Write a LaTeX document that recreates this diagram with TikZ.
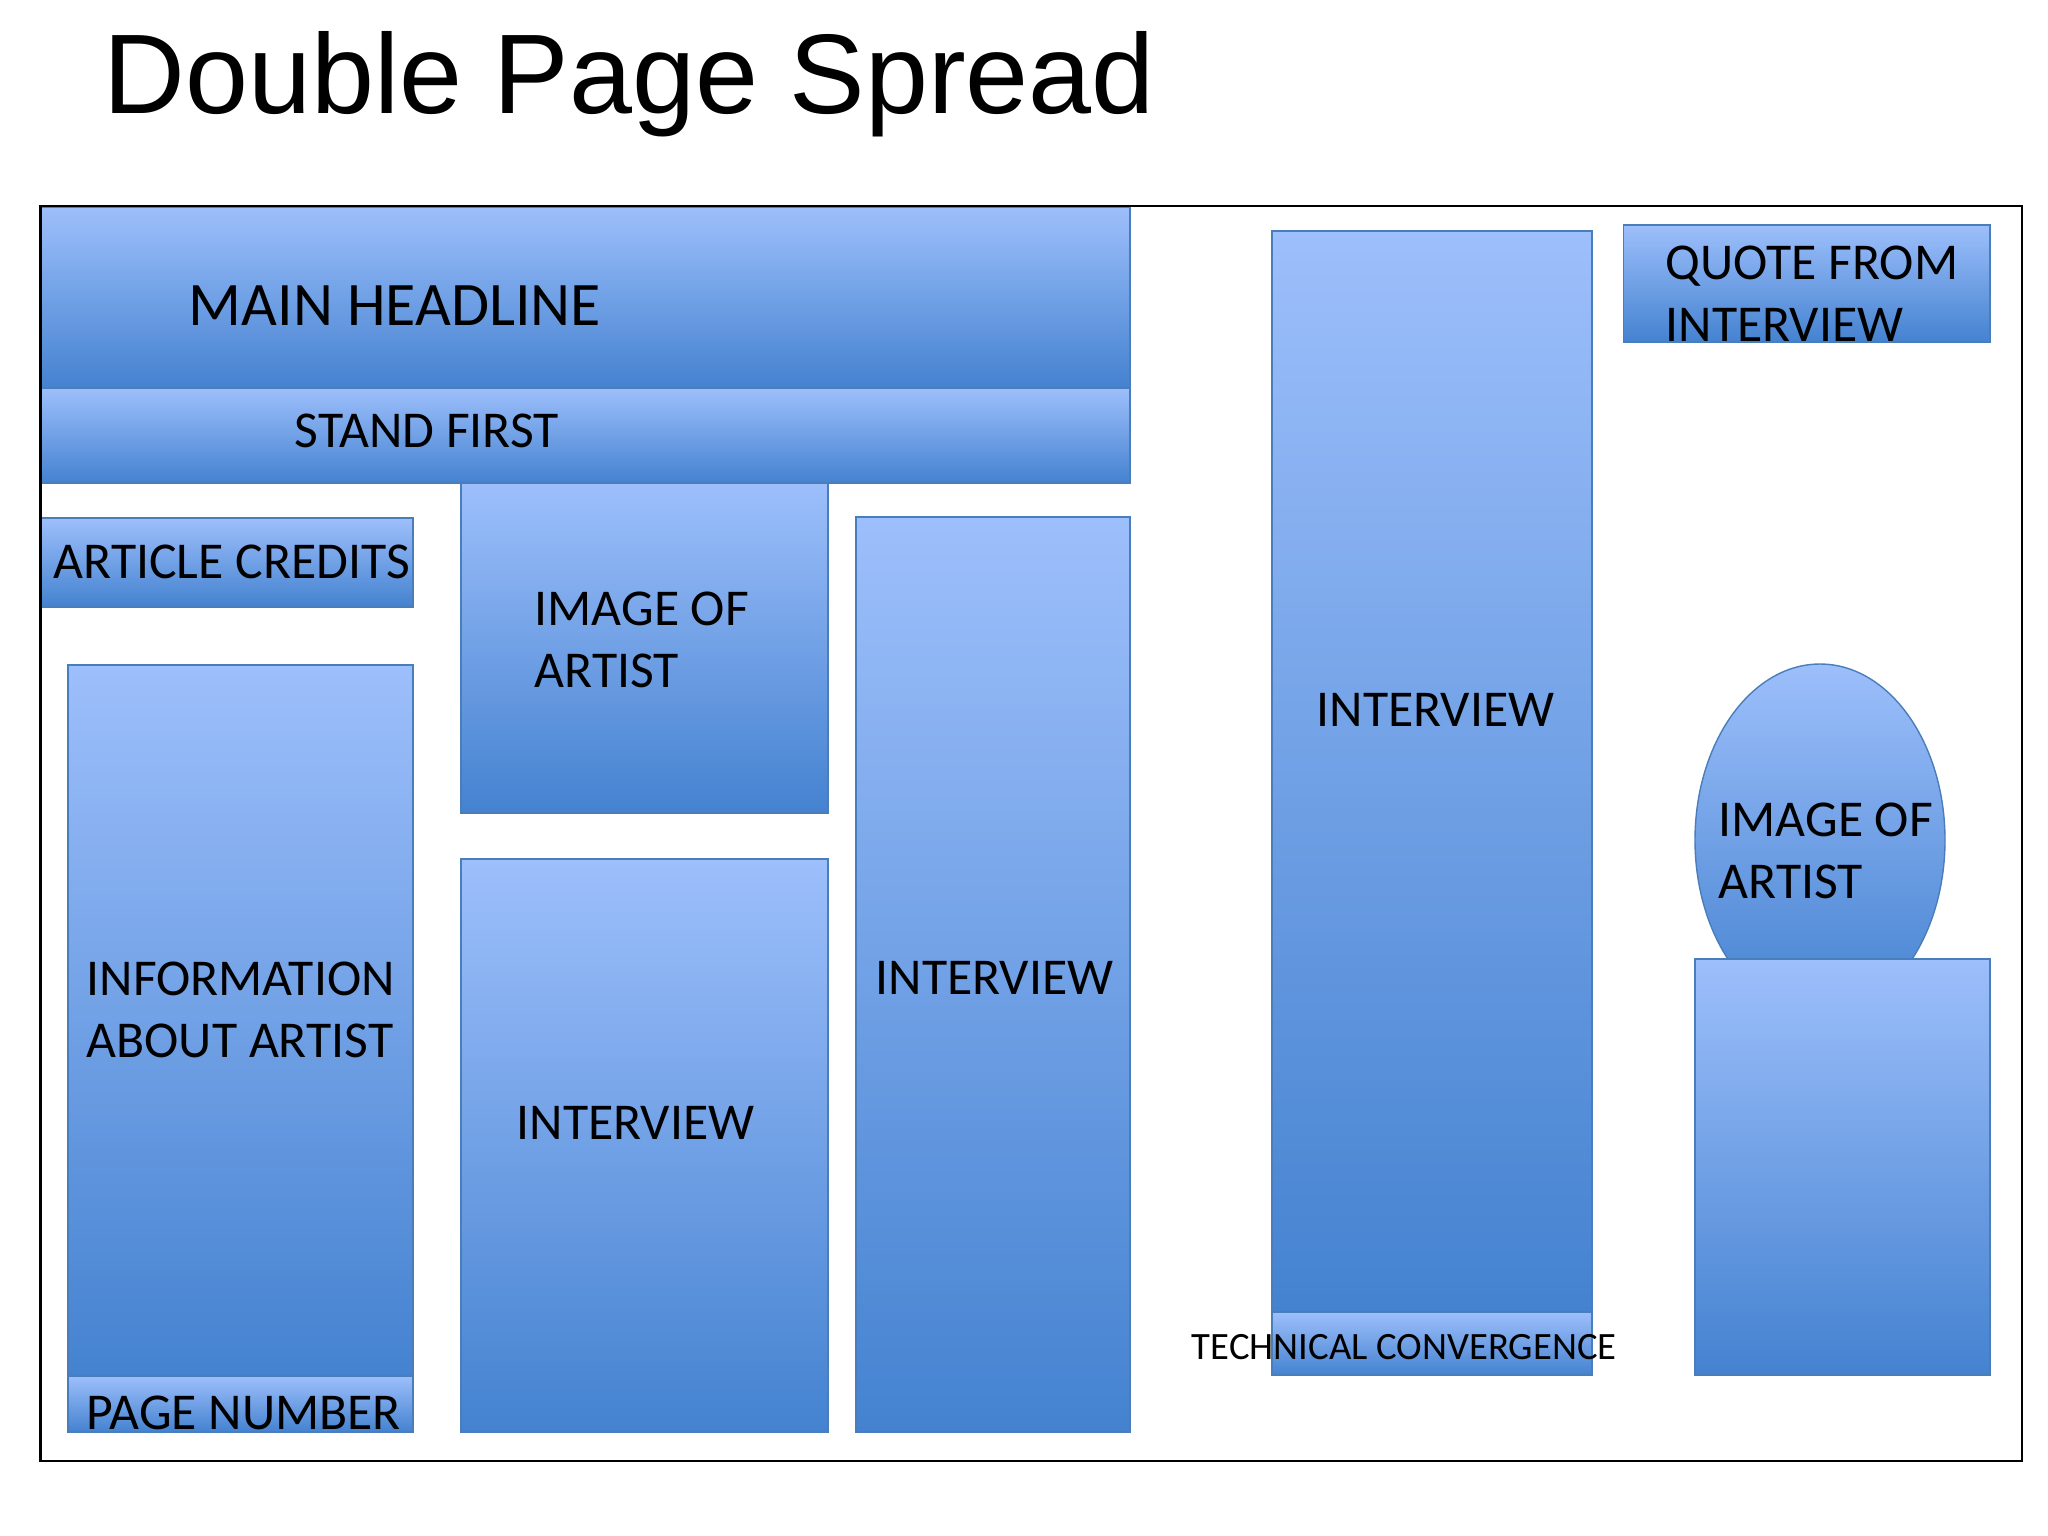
\documentclass[tikz,border=0pt]{standalone}
\usepackage{fontspec}
\setmainfont{Carlito}
\newfontfamily\titlefont{Liberation Sans}

\definecolor{paneltop}{RGB}{157,191,251}
\definecolor{panelbot}{RGB}{68,130,208}
\definecolor{paneledge}{RGB}{74,126,187}

\tikzset{
	panel/.style={draw=paneledge, line width=0.4pt, top color=paneltop, bottom color=panelbot},
	lbl/.style={inner sep=0pt, anchor=base west, align=left, font=\fontsize{14.7}{17.6}\selectfont},
}

\begin{document}
\begin{tikzpicture}[x=0.01cm, y=-0.01cm]
	\useasboundingbox [fill=white] (0,0) rectangle (2048,1535);

	\node [inner sep=0pt, anchor=base west, font=\titlefont\fontsize{32.2}{38}\selectfont] (title) at (103,113) {Double Page Spread};

	\path [panel] (40.5,207.5) rectangle (1130,388);
	\path [panel] (40.5,388) rectangle (1130,483);
	\path [panel] (40.5,518) rectangle (413,607);
	\path [panel] (461,483) rectangle (828,813);
	\path [panel] (856,517) rectangle (1130,1432);
	\path [panel] (461,859) rectangle (828,1432);
	\path [panel] (68,665) rectangle (413,1376);
	\path [panel] (68,1376) rectangle (413,1432);

	\path [panel] (1272,231) rectangle (1592,1312);
	\path [panel] (1272,1312) rectangle (1592,1375);
	\path [panel] (1623.5,225) rectangle (1990,342);
	\path [panel] (1820,840) ellipse [x radius=125, y radius=176];
	\path [panel] (1695,959) rectangle (1990,1375);

	\draw [line width=0.7pt] (40.5,206) rectangle (2022,1461);

	\node [lbl, font=\fontsize{17.6}{21}\selectfont] (headline) at (188,325) {MAIN HEADLINE};
	\node [lbl] (standfirst) at (294,447) {STAND FIRST};
	\node [lbl] (credits) at (53,578) {ARTICLE CREDITS};
	\node [lbl] (image1) at (534,687) {IMAGE OF\\ARTIST};
	\node [lbl] (info) at (86,1057) {INFORMATION\\ABOUT ARTIST};
	\node [lbl] (pagenum) at (86,1429) {PAGE NUMBER};
	\node [lbl] (interview1) at (516,1139) {INTERVIEW};
	\node [lbl] (interview2) at (875,994) {INTERVIEW};
	\node [lbl] (interview3) at (1316,726) {INTERVIEW};
	\node [lbl] (quote) at (1665,341) {QUOTE FROM\\INTERVIEW};
	\node [lbl] (image2) at (1718,898) {IMAGE OF\\ARTIST};
	\node [lbl, font=\fontsize{11}{13}\selectfont] (techconv) at (1191,1359) {TECHNICAL CONVERGENCE};
\end{tikzpicture}
\end{document}
